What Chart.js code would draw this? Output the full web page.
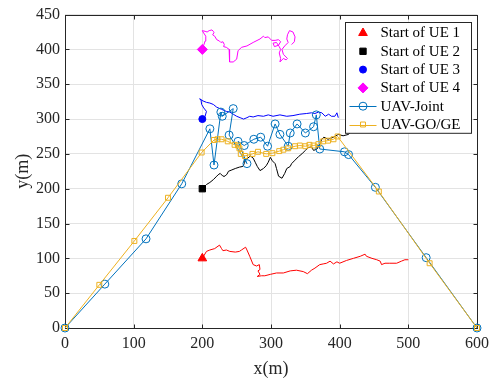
<!DOCTYPE html>
<html>
<head>
<meta charset="utf-8">
<script src="https://cdn.jsdelivr.net/npm/chart.js@4.4.1/dist/chart.umd.min.js"></script>
<style>
html,body{margin:0;padding:0;background:#fff;}
</style>
</head>
<body>
<canvas id="c" width="495" height="384"></canvas>
<script>
// axis ticks
var xTicks = [0,100,200,300,400,500,600];
var yTicks = [0,50,100,150,200,250,300,350,400,450];

// UE trajectories (start point first)
var ue1X = [200,206,211,218,225,228,230,235,240,248,254,257,263,265,269,274,279,283,284,281,284,280,286,291,299,308,318,328,337,347,353,359,364,371,376,381,386,391,396,400,410,420,430,437,439,447,454,459,461,466,473,483,490,495,500];
var ue1Y = [100,110,112,114,119,114,111,112,110,109,110,112,116,112,103,91,89,91,84,82,77,74,75,75,77,79,79,82,83,81,78,83,86,91,92,93,96,92,95,93,97,100,103,106,103,100,98,96,91,93,93,93,96,98,98];

var ue2X = [200,206,211,216,220,223,226,230,233,236,238,243,248,254,259,261,261,265,270,274,277,280,284,289,293,296,299,302,306,308,311,316,320,323,328,330,335,340,345,350,354,359,362,367,371,374,377,383,391,398,405,413,417];
var ue2Y = [200,206,209,213,217,220,222,218,218,221,225,227,229,231,232,236,242,243,247,244,238,232,226,229,233,238,245,240,236,229,218,215,222,229,232,236,241,246,250,255,259,260,255,257,264,271,274,271,274,278,276,278,283];

var ue3X = [200,204,206,202,199,198,196,201,206,211,216,221,228,235,240,245,250,255,260,265,269,274,281,289,296,303,313,323,332,342,352,359,364,369,374,379,384,388,393,396,398];
var ue3Y = [300,304,311,316,321,328,329,326,324,323,321,317,314,311,310,307,304,302,300,302,304,303,305,304,306,304,306,304,305,307,308,309,308,310,309,304,307,304,304,309,302];

var ue4X = [200,204,205,201,200,204,207,210,214,216,217,215,218,221,225,227,230,232,231,235,239,240,239,240,245,250,252,257,265,274,284,289,291,296,301,306,311,314,311,305,303,308,312,314,312,314,313,318,322,324,318,316,320,325,323,324,327,332,335,334,330];
var ue4Y = [400,412,419,425,427,426,425,427,428,426,424,421,419,414,412,410,411,407,404,403,400,393,386,382,382,386,398,403,405,410,415,419,417,418,413,413,414,411,406,404,409,410,404,400,395,387,382,387,385,387,393,400,405,410,415,421,427,425,418,411,407];

// UAV paths
var jointX = [0,58,118,170,211,217,227,229,245,239,265,252,261,275,285,295,306,313,325,328,338,350,362,366,371,407,413,452,526,600];
var jointY = [0,63,128,207,286,234,310,304,315,277,236,268,262,271,274,261,293,278,261,280,293,280,289,306,257,253,249,202,101,0];

var goX = [0,50,101,150,199,217,222,228,237,247,252,254,256,262,273,281,293,302,312,318,325,335,342,350,356,362,369,376,383,391,397,457,531,600];
var goY = [0,62,125,187,252,270,271,271,268,263,262,258,250,247,250,253,250,251,254,256,258,261,262,261,263,262,264,268,269,271,275,196,93,0];

function pts(xs, ys) {
  return xs.map(function(x, i){ return {x: x, y: ys[i]}; });
}

var font = 'Liberation Serif';
var axisColor = '#262626';

function trail(xs, ys, color) {
  return {data: pts(xs, ys), showLine: true, borderColor: color, borderWidth: 1,
    pointRadius: 0, fill: false, order: 5, clip: false, inLegend: false};
}
function start(xs, ys, color, style, r, label) {
  return {label: label, data: [{x: xs[0], y: ys[0]}], showLine: false,
    backgroundColor: color, borderColor: color, borderWidth: 1,
    pointStyle: style, pointRadius: r, order: 3, clip: false, inLegend: true};
}

var datasets = [
  trail(ue1X, ue1Y, '#ff0000'),
  trail(ue2X, ue2Y, '#000000'),
  trail(ue3X, ue3Y, '#0000ff'),
  trail(ue4X, ue4Y, '#ff00ff'),
  start(ue1X, ue1Y, '#ff0000', 'triangle', 5, 'Start of UE 1'),
  start(ue2X, ue2Y, '#000000', 'rect', 4.5, 'Start of UE 2'),
  start(ue3X, ue3Y, '#0000ff', 'circle', 3.5, 'Start of UE 3'),
  start(ue4X, ue4Y, '#ff00ff', 'rectRot', 5, 'Start of UE 4'),
  {label: 'UAV-Joint', data: pts(jointX, jointY), showLine: true, borderColor: '#0072bd',
    borderWidth: 1, pointStyle: 'circle', pointRadius: 4, pointBorderColor: '#0072bd',
    pointBackgroundColor: 'rgba(0,0,0,0)', pointBorderWidth: 1, order: 2, clip: false, inLegend: true},
  {label: 'UAV-GO/GE', data: pts(goX, goY), showLine: true, borderColor: '#edb120',
    borderWidth: 1, pointStyle: 'rect', pointRadius: 3.5, pointBorderColor: '#edb120',
    pointBackgroundColor: 'rgba(0,0,0,0)', pointBorderWidth: 1, order: 1, clip: false, inLegend: true}
];

// box and inward ticks like matlab
var frame = {
  id: 'frame',
  beforeDatasetsDraw: function(chart) {
    var a = chart.chartArea, ctx = chart.ctx;
    var xs = chart.scales.x, ys = chart.scales.y;
    var l = Math.round(a.left) + 0.5, r = Math.round(a.right) + 0.5;
    var t = Math.round(a.top) + 0.5, b = Math.round(a.bottom) + 0.5;
    ctx.save();
    ctx.strokeStyle = axisColor;
    ctx.lineWidth = 1;
    ctx.strokeRect(l, t, r - l, b - t);
    ctx.beginPath();
    xTicks.forEach(function(v){
      var p = Math.round(xs.getPixelForValue(v)) + 0.5;
      ctx.moveTo(p, b); ctx.lineTo(p, b - 4);
      ctx.moveTo(p, t); ctx.lineTo(p, t + 4);
    });
    yTicks.forEach(function(v){
      var p = Math.round(ys.getPixelForValue(v)) + 0.5;
      ctx.moveTo(l, p); ctx.lineTo(l + 4, p);
      ctx.moveTo(r, p); ctx.lineTo(r - 4, p);
    });
    ctx.stroke();
    ctx.restore();
  }
};

var legendBox = {
  id: 'legendBox',
  afterDatasetsDraw: function(chart) {
    var a = chart.chartArea, ctx = chart.ctx;
    var items = chart.data.datasets.filter(function(d){ return d.inLegend; });
    var w = 126, rowH = 18.3;
    var h = items.length * rowH + 1;
    var x0 = Math.round(a.right - 6 - w) + 0.5, y0 = Math.round(a.top + 7) + 0.5;
    ctx.save();
    ctx.fillStyle = '#fff';
    ctx.fillRect(x0, y0, w, h);
    ctx.strokeStyle = axisColor;
    ctx.lineWidth = 1;
    ctx.strokeRect(x0, y0, w, h);
    ctx.font = '15px "' + font + '"';
    ctx.textBaseline = 'middle';
    items.forEach(function(d, i){
      var cy = y0 + 10.5 + i * rowH;
      var mx = x0 + 17.5;
      if (d.showLine) {
        ctx.strokeStyle = d.borderColor;
        ctx.beginPath();
        ctx.moveTo(x0 + 4, Math.round(cy) + 0.5);
        ctx.lineTo(x0 + 31, Math.round(cy) + 0.5);
        ctx.stroke();
        ctx.fillStyle = 'rgba(0,0,0,0)';
        ctx.strokeStyle = d.pointBorderColor;
      } else {
        ctx.fillStyle = d.backgroundColor;
        ctx.strokeStyle = d.borderColor;
      }
      ctx.lineWidth = 1;
      Chart.helpers.drawPoint(ctx, {pointStyle: d.pointStyle, radius: d.pointRadius, rotation: 0, borderWidth: 1}, mx, cy);
      ctx.fillStyle = '#000';
      ctx.fillText(d.label, x0 + 35, cy + 0.5);
    });
    ctx.restore();
  }
};

var chart = new Chart(document.getElementById('c'), {
  type: 'scatter',
  data: {datasets: datasets},
  options: {
    responsive: false,
    animation: false,
    devicePixelRatio: 1,
    layout: {padding: {top: 7, right: 18, left: 0, bottom: 0}},
    plugins: {legend: {display: false}, tooltip: {enabled: false}},
    scales: {
      x: {
        type: 'linear', min: 0, max: 600,
        afterBuildTicks: function(s){ s.ticks = xTicks.map(function(v){ return {value: v}; }); },
        afterFit: function(s){ s.height = 56; },
        grid: {color: '#e3e3e3', drawTicks: false},
        border: {display: false},
        ticks: {font: {family: font, size: 16}, color: axisColor, padding: 6, maxRotation: 0},
        title: {display: true, text: 'x(m)', font: {family: font, size: 18}, color: axisColor, padding: {top: 0, bottom: 4}}
      },
      y: {
        type: 'linear', min: 0, max: 450,
        afterBuildTicks: function(s){ s.ticks = yTicks.map(function(v){ return {value: v}; }); },
        afterFit: function(s){ s.width = 65; },
        grid: {color: '#e3e3e3', drawTicks: false},
        border: {display: false},
        ticks: {font: {family: font, size: 16}, color: axisColor, padding: 5},
        title: {display: true, text: 'y(m)', font: {family: font, size: 18}, color: axisColor, padding: {top: 12, bottom: 0}}
      }
    }
  },
  plugins: [frame, legendBox]
});
</script>
</body>
</html>
